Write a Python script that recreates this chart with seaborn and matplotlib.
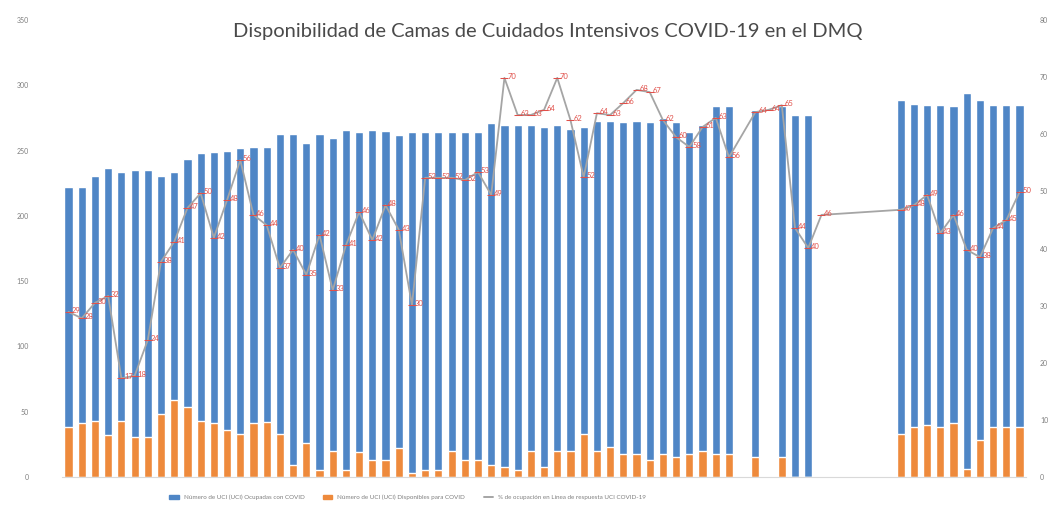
import numpy as np
import pandas as pd
import matplotlib
matplotlib.use('Agg')
import matplotlib.pyplot as plt
import seaborn as sns
from matplotlib.patches import Patch
from matplotlib.lines import Line2D

# --- data (NaN = no report that day) ---
nan = np.nan
dias = [str(i + 1) for i in range(73)]

total_camas = [
    222, 222, 231, 237, 234, 235, 235, 231, 234, 244,
    248, 249, 250, 252, 253, 253, 263, 263, 256, 263,
    260, 266, 264, 266, 265, 262, 264, 264, 264, 264,
    264, 264, 271, 270, 270, 270, 268, 270, 267, 268,
    273, 273, 272, 273, 272, 275, 272, 264, 270, 284,
    284, nan, 281, nan, 284, 277, 277, nan, nan, nan,
    nan, nan, nan, 289, 286, 285, 285, 284, 294, 289,
    285, 285, 285,
]
disponibles = [
    38, 41, 43, 32, 43, 31, 31, 48, 59, 54,
    43, 41, 36, 33, 41, 42, 33, 9, 26, 5,
    20, 5, 19, 13, 13, 22, 3, 5, 5, 20,
    13, 13, 9, 8, 5, 20, 8, 20, 20, 33,
    20, 23, 18, 18, 13, 18, 15, 18, 20, 18,
    18, nan, 15, nan, 15, 0, 0, nan, nan, nan,
    nan, nan, nan, 33, 38, 40, 38, 41, 6, 28,
    38, 38, 38,
]
ocupacion = [
    28.9, 27.8, 30.5, 31.7, 17.3, 17.7, 24.0, 37.7, 41.2, 47.1,
    49.7, 41.9, 48.5, 55.5, 45.9, 44.1, 36.6, 39.8, 35.4, 42.4,
    32.7, 40.6, 46.4, 41.5, 47.6, 43.3, 30.1, 52.4, 52.4, 52.4,
    52.0, 53.4, 49.4, 69.9, 63.4, 63.4, 64.3, 69.9, 62.5, 52.5,
    63.7, 63.4, 65.5, 67.8, 67.4, 62.5, 59.5, 57.8, 61.3, 62.9,
    56.0, nan, 63.9, 64.3, 65.1, 43.6, 40.1, 45.9, nan, nan,
    nan, nan, nan, 46.8, 47.6, 49.4, 42.7, 45.9, 39.8, 38.5,
    43.6, 45.0, 49.9,
]

titulo = "Disponibilidad de Camas de Cuidados Intensivos COVID-19 en el DMQ"
leyenda = [
    "Número de UCI (UCI) Ocupadas con COVID",
    "Número de UCI (UCI) Disponibles para COVID",
    "% de ocupación en Línea de respuesta UCI COVID-19",
]

AZUL = "#4f86c6"
NARANJA = "#ee8a3c"
GRIS = "#a5a5a5"
ROJO = "#e0504a"

df = pd.DataFrame({"dia": dias, "total": total_camas,
                   "disp": disponibles, "ocup": ocupacion})
df["pos"] = np.arange(len(df))

sns.set_style("white")
plt.rcParams["font.family"] = ["Lato", "DejaVu Sans"]

fig = plt.figure(figsize=(10.59, 5.15), dpi=100)
ax = fig.add_axes([0.0585, 0.0738, 0.9105, 0.887])

# stacked look: blue total first, orange available drawn over its base
sns.barplot(data=df, x="dia", y="total", color=AZUL, width=0.62,
            saturation=1, ax=ax)
sns.barplot(data=df, x="dia", y="disp", color=NARANJA, width=0.62,
            saturation=1, ax=ax)

ax.set_xlim(-0.5, len(df) - 0.5)
ax.set_ylim(0, 350)
ax.set_yticks(range(0, 351, 50))
ax.set_xticks([])
ax.set_xlabel("")
ax.set_ylabel("")
ax.tick_params(axis="y", length=0, pad=24, labelsize=5, labelcolor="#7f7f7f")
for s in ["top", "left", "right"]:
    ax.spines[s].set_visible(False)
ax.spines["bottom"].set_color("#d9d9d9")

ax2 = ax.twinx()
linea = df.dropna(subset=["ocup"])
sns.lineplot(data=linea, x="pos", y="ocup", color=GRIS, linewidth=1.3,
             marker="_", markersize=6, markeredgecolor=ROJO, ax=ax2)
for _, r in linea.iterrows():
    ax2.annotate(f"{r['ocup']:.0f}", (r["pos"], r["ocup"]), xytext=(2, 1),
                 textcoords="offset points", fontsize=5.5, color=ROJO,
                 ha="left", va="center")
ax2.set_ylim(0, 80)
ax2.set_yticks(range(0, 81, 10))
ax2.set_ylabel("")
ax2.set_xlabel("")
ax2.tick_params(axis="y", length=0, pad=10, labelsize=5, labelcolor="#7f7f7f")
for s in ["top", "left", "right", "bottom"]:
    ax2.spines[s].set_visible(False)

fig.text(0.517, 0.938, titulo, ha="center", va="center", fontsize=14.5,
         color="#4a4a4a")

handles = [Patch(color=AZUL), Patch(color=NARANJA),
           Line2D([0], [0], color=GRIS, linewidth=1.4)]
fig.legend(handles, leyenda, loc="center", bbox_to_anchor=(0.385, 0.035),
           ncol=3, frameon=False, fontsize=4.5, handlelength=1.5,
           handleheight=0.6, columnspacing=3, labelcolor="#7f7f7f")

fig.savefig("out.png", dpi=100)
plt.close(fig)
